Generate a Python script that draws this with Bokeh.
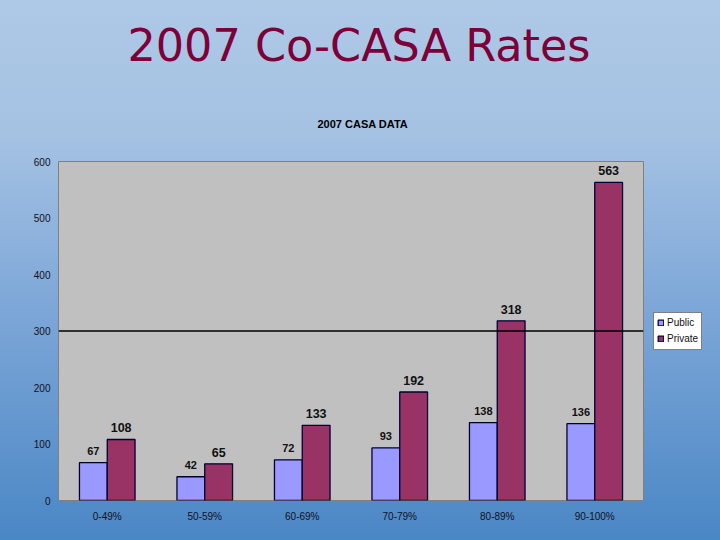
from bokeh.plotting import figure
from bokeh.models import (ColumnDataSource, FactorRange, Range1d, Span, Title,
                          Legend, LegendItem, LabelSet)
from bokeh.core.properties import value
from bokeh.transform import dodge
from bokeh.embed import file_html
from bokeh.resources import INLINE

categories = ["0-49%", "50-59%", "60-69%", "70-79%", "80-89%", "90-100%"]
public = [67, 42, 72, 93, 138, 136]
private = [108, 65, 133, 192, 318, 563]
series_names = ["Public", "Private"]
y_ticks = [0, 100, 200, 300, 400, 500, 600]

src = ColumnDataSource(dict(cat=categories, public=public, private=private,
                            public_txt=[str(v) for v in public],
                            private_txt=[str(v) for v in private]))

p = figure(frame_width=585, frame_height=339, output_backend="svg", toolbar_location=None,
           title=None, x_range=FactorRange(*categories), y_range=Range1d(0, 600),
           min_border_left=58, min_border_right=77, min_border_top=161,
           min_border_bottom=40)
p.styles = {"background": "linear-gradient(180deg, #aec9e6 0%, #a5c2e3 25%, #7ca6d7 58%, #4a87c5 100%)"}
p.border_fill_color = None
p.background_fill_color = "#c0c0c0"
p.outline_line_color = "#808080"
p.xgrid.grid_line_color = None
p.ygrid.grid_line_color = None

FONT = "Liberation Sans"
p.yaxis.ticker = y_ticks
for ax in (p.xaxis[0], p.yaxis[0]):
    ax.axis_line_color = None
    ax.major_tick_line_color = None
    ax.minor_tick_line_color = None
    ax.major_tick_out = 0
    ax.major_tick_in = 0
    ax.major_label_text_font = FONT
    ax.major_label_text_font_size = "10px"
    ax.major_label_text_color = "#111122"
p.yaxis.major_label_standoff = 8
p.xaxis.major_label_standoff = 10

p.add_layout(Span(location=300, dimension="width", line_color="black", line_width=1.3))

bw = 0.285
r1 = p.vbar(x=dodge("cat", -0.1425, range=p.x_range), top="public", width=bw, source=src,
            fill_color="#9999ff", line_color="#000033", line_width=1.3)
r2 = p.vbar(x=dodge("cat", 0.1425, range=p.x_range), top="private", width=bw, source=src,
            fill_color="#993366", line_color="#000033", line_width=1.3)

p.add_layout(LabelSet(x=dodge("cat", -0.1425, range=p.x_range), y="public", text="public_txt",
                      source=src, text_align="center", text_baseline="alphabetic",
                      y_offset=8, text_font=value(FONT), text_font_size=value("11px"),
                      text_font_style="bold", text_color="#111111"))
p.add_layout(LabelSet(x=dodge("cat", 0.1425, range=p.x_range), y="private", text="private_txt",
                      source=src, text_align="center", text_baseline="alphabetic",
                      y_offset=7, text_font=value(FONT), text_font_size=value("12.5px"),
                      text_font_style="bold", text_color="#111111"))

legend = Legend(items=[LegendItem(label=series_names[0], renderers=[r1]),
                       LegendItem(label=series_names[1], renderers=[r2])],
                location="center_left", margin=10, padding=3, spacing=2,
                glyph_width=7, glyph_height=7, label_standoff=3, label_width=25,
                label_text_font=FONT, label_text_font_size="10px",
                label_text_color="#111111", label_height=14,
                border_line_color="black", border_line_width=1,
                background_fill_color="white", background_fill_alpha=1)
p.add_layout(legend, "right")

p.add_layout(Title(text="2007 CASA DATA", align="left", offset=259, standoff=63,
                   text_font=FONT, text_font_size="11px", text_font_style="bold",
                   text_color="#000000"), "above")
p.add_layout(Title(text="2007 Co-CASA Rates", align="left", offset=69, standoff=27,
                   text_font="DejaVu Sans", text_font_size="44.5px", text_font_style="normal",
                   text_color="#7d0038"), "above")

open("out.html", "w").write(file_html(p, INLINE))
